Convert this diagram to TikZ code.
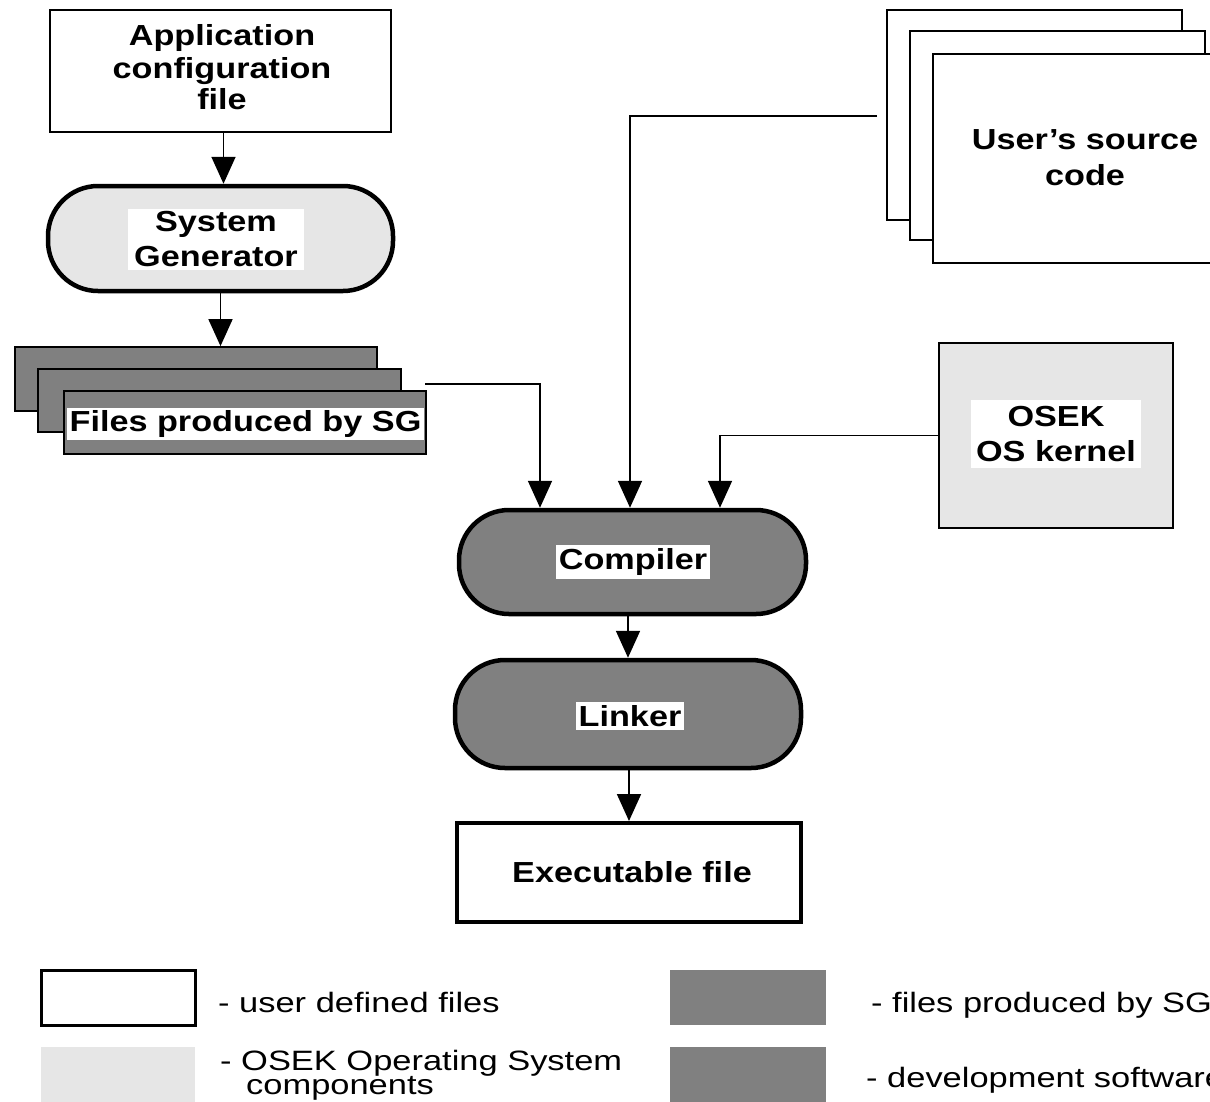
\documentclass[tikz,border=0pt]{standalone}
\usepackage{fontspec}
\setmainfont{Liberation Sans}[FakeStretch=1.23]
\newfontfamily\labfont{Liberation Sans}[FakeStretch=1.18]
\usetikzlibrary{arrows.meta}
\definecolor{darkg}{HTML}{808080}
\definecolor{lightg}{HTML}{E6E6E6}
\begin{document}
\begin{tikzpicture}[x=1pt,y=-1pt,
  filebox/.style={draw, line width=1.8pt, inner sep=0pt},
  pill/.style={draw, line width=4.5pt, rounded corners=50pt, inner sep=0pt},
  lab/.style={fill=white, inner sep=3pt, align=center,
    font=\labfont\bfseries\fontsize{29}{35}\selectfont},
  plainlab/.style={inner sep=0pt, align=center,
    font=\labfont\bfseries\fontsize{29}{36}\selectfont},
  conn/.style={line width=1.8pt, -{Triangle[width=24pt,length=27pt]}},
  link/.style={line width=1.8pt},
  legtext/.style={inner sep=0pt, anchor=base west, font=\fontsize{28}{28}\selectfont}]
\useasboundingbox (0,0) rectangle (1210,1101);
\clip (0,0) rectangle (1210,1101);
\fill[white] (0,0) rectangle (1210,1101);

% Application configuration file
\node[filebox, fill=white, minimum width=341pt, minimum height=122pt] (app) at (220.5,71) {};
\node[plainlab] (applab) at (222,67) {Application\\[-3pt]configuration\\[-5pt]file};

% System generator
\node[pill, fill=lightg, minimum width=345pt, minimum height=105pt] (sg) at (220.5,238.5) {};
\node[lab, inner xsep=6pt] (sglab) at (216,239.5) {System\\Generator};

% Files produced by SG
\node[filebox, fill=darkg, minimum width=362pt, minimum height=64pt] (f1) at (196,379) {};
\node[filebox, fill=darkg, minimum width=363pt, minimum height=63pt] (f2) at (219.5,400.5) {};
\node[filebox, fill=darkg, minimum width=362pt, minimum height=63pt] (f3) at (245,422.5) {};
\node[lab, inner sep=0pt, minimum width=357pt, minimum height=32pt] (flab) at (245.5,424) {Files produced by SG};

% User's source code
\node[filebox, line width=2.2pt, fill=white, minimum width=295pt, minimum height=210pt] (u1) at (1034.5,115) {};
\node[filebox, line width=2.2pt, fill=white, minimum width=295pt, minimum height=209pt] (u2) at (1057.5,135.5) {};
\node[filebox, line width=2.2pt, fill=white, minimum width=295pt, minimum height=209pt] (u3) at (1080.5,158.5) {};
\node[plainlab] (ulab) at (1085,158) {User’s source\\code};

% OSEK OS kernel
\node[filebox, fill=lightg, minimum width=234pt, minimum height=185pt] (osek) at (1056,435.5) {};
\node[lab, inner xsep=5pt, inner ysep=6pt] (oseklab) at (1056,434) {OSEK\\OS kernel};

% Compiler, Linker, Executable
\node[pill, fill=darkg, minimum width=347pt, minimum height=104pt] (comp) at (632.5,562) {};
\node[lab] (complab) at (633,562) {Compiler};
\node[pill, fill=darkg, minimum width=346pt, minimum height=108pt] (link) at (628,714) {};
\node[lab] (linklab) at (630,716) {Linker};
\node[draw, line width=4pt, fill=white, inner sep=0pt, minimum width=344pt, minimum height=99pt] (exe) at (629,872.5) {};
\node[plainlab] (exelab) at (632,872) {Executable file};

% connectors
\draw[conn] ([xshift=3pt]app.south) -- ([xshift=3pt]app.south |- sg.north);
\draw[conn] (sg.south) -- (sg.south |- f1.north);
\coordinate (fout) at (425,384);
\draw[conn] (fout) -| ([xshift=-92.5pt]comp.north);
\coordinate (uout) at (877,116);
\draw[conn] (uout) -| ([xshift=-2.5pt]comp.north);
\draw[conn] (osek.west) -| ([xshift=87.5pt]comp.north);
\draw[conn] (comp.south -| link.north) -- (link.north);
\draw[conn] ([xshift=1pt]link.south) -- ([xshift=1pt]link.south |- exe.north);

% legend
\node[draw, line width=3pt, fill=white, minimum width=154pt, minimum height=55pt, inner sep=0pt] (leg1) at (118,997.5) {};
\node[fill=lightg, minimum width=154pt, minimum height=58pt, inner sep=0pt] (leg2) at (118,1076) {};
\node[fill=darkg, minimum width=156pt, minimum height=55pt, inner sep=0pt] (leg3) at (748,997.5) {};
\node[fill=darkg, minimum width=156pt, minimum height=58pt, inner sep=0pt] (leg4) at (748,1076) {};
\node[legtext] (legt1) at (218,1012) {- user defined files};
\node[legtext] (legt2) at (220,1070) {- OSEK Operating System};
\node[legtext] (legt2b) at (246,1094) {components};
\node[legtext] (legt3) at (871,1012) {- files produced by SG};
\node[legtext] (legt4) at (866,1087) {- development software};
\end{tikzpicture}
\end{document}
